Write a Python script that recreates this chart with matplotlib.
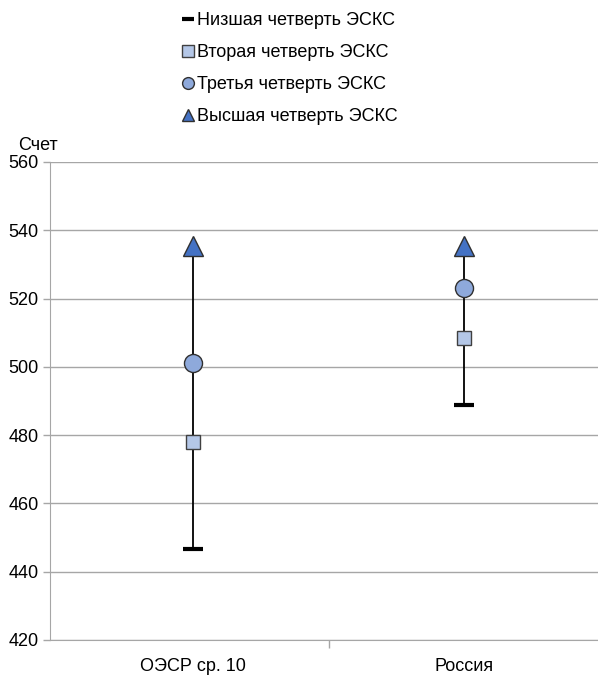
import matplotlib.pyplot as plt
from matplotlib import font_manager
from matplotlib.lines import Line2D
import numpy as np

names = {f.name for f in font_manager.fontManager.ttflist}
if 'Liberation Sans Narrow' in names:
    plt.rcParams['font.family'] = ['Liberation Sans Narrow', 'DejaVu Sans']
    fs = 15
else:
    plt.rcParams['font.family'] = ['Liberation Sans', 'DejaVu Sans']
    fs = 13

categories = ["ОЭСР ср. 10", "Россия"]
lowest = [446.7, 488.8]
second = [478.0, 508.5]
third = [501.0, 523.0]
highest = [535.3, 535.3]
series_labels = ["Низшая четверть ЭСКС", "Вторая четверть ЭСКС",
                 "Третья четверть ЭСКС", "Высшая четверть ЭСКС"]
yticks = [420, 440, 460, 480, 500, 520, 540, 560]

grid_c = '#A6A6A6'
fig = plt.figure(figsize=(5.98, 6.79), dpi=100)
ax = fig.add_axes([50 / 598, 39 / 679, 548 / 598, 478 / 679])

x = np.arange(len(categories))
ax.vlines(x, lowest, highest, color='black', lw=1.3, zorder=2)
ax.plot(x, lowest, ls='none', marker='_', ms=14, mew=3, color='black', zorder=3)
ax.plot(x, second, ls='none', marker='s', ms=9.5, mfc='#B4C7E7', mec='#404040', mew=1, zorder=3)
ax.plot(x, third, ls='none', marker='o', ms=13, mfc='#8EA9DB', mec='#303030', mew=1, zorder=3)
ax.plot(x, highest, ls='none', marker='^', ms=14, mfc='#4472C4', mec='#303030', mew=1, zorder=3)

ax.set_ylim(420, 560)
ax.set_yticks(yticks)
ax.set_xlim(-0.528, 1.494)
ax.set_xticks([0.5])
ax.set_xticklabels([''])
ax.tick_params(axis='x', length=6, color=grid_c, width=1)
ax.tick_params(axis='y', length=5, color=grid_c, width=1, labelsize=fs, pad=3)
for i, c in enumerate(categories):
    ax.text(i, -0.038, c, transform=ax.get_xaxis_transform(), ha='center', va='top', fontsize=fs)
ax.grid(axis='y', color=grid_c, lw=1)
for s in ['top', 'right']:
    ax.spines[s].set_visible(False)
ax.spines['left'].set_color(grid_c)
ax.spines['bottom'].set_color(grid_c)
ax.set_axisbelow(True)

fig.text(18 / 598, 1 - 145 / 679, "Счет", fontsize=fs, va='center', ha='left')

handles = [
    Line2D([], [], ls='none', marker='_', ms=9, mew=3, color='black'),
    Line2D([], [], ls='none', marker='s', ms=8, mfc='#B4C7E7', mec='#404040', mew=1),
    Line2D([], [], ls='none', marker='o', ms=8.5, mfc='#8EA9DB', mec='#303030', mew=1),
    Line2D([], [], ls='none', marker='^', ms=9, mfc='#4472C4', mec='#303030', mew=1),
]
fig.legend(handles, series_labels, loc='upper left', bbox_to_anchor=(183 / 598, 1 - 12 / 679),
           frameon=False, fontsize=fs, handlelength=0.5, handletextpad=0.25,
           labelspacing=0.83, borderaxespad=0, borderpad=0)

fig.savefig('out.png', dpi=100)
